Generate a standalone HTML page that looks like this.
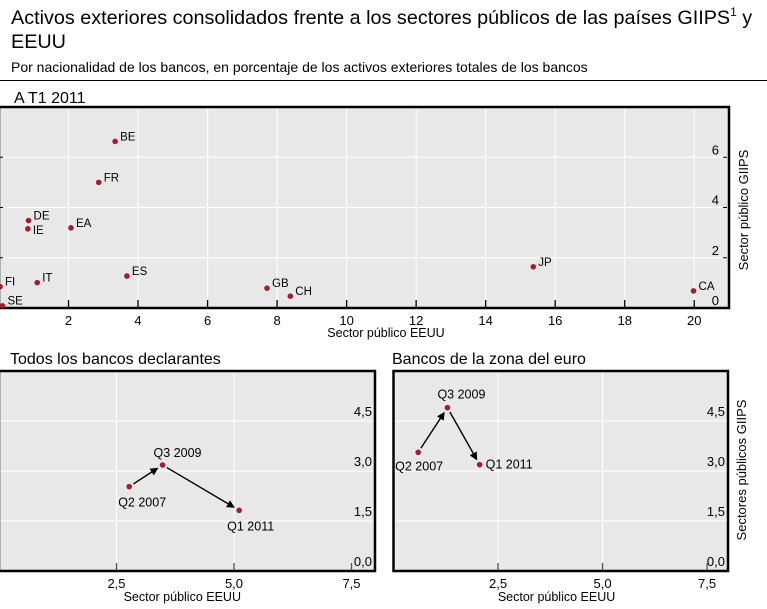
<!DOCTYPE html>
<html><head><meta charset="utf-8">
<style>
body{margin:0;background:#fff;width:767px;height:609px;overflow:hidden;font-family:"Liberation Sans",sans-serif;}
svg{position:absolute;left:0;top:0}
</style></head>
<body>
<svg id="s" width="767" height="609" xmlns="http://www.w3.org/2000/svg" font-family="Liberation Sans, sans-serif">
<text x="11" y="24" font-size="19.8" fill="#000">Activos exteriores consolidados frente a los sectores públicos de las países GIIPS<tspan font-size="12" dy="-8">1</tspan><tspan dy="8"> y</tspan></text>
<text x="11" y="48" font-size="19.8" fill="#000">EEUU</text>
<text x="11" y="72" font-size="14" fill="#000">Por nacionalidad de los bancos, en porcentaje de los activos exteriores totales de los bancos</text>
<line x1="0" y1="80.5" x2="767" y2="80.5" stroke="#000" stroke-width="1"/>
<text x="14" y="103" font-size="16">A T1 2011</text>
<text x="10" y="364" font-size="16">Todos los bancos declarantes</text>
<text x="392" y="364" font-size="16">Bancos de la zona del euro</text>
<defs><marker id="ah" markerWidth="8" markerHeight="8" refX="7" refY="4" orient="auto" markerUnits="userSpaceOnUse"><path d="M0,0 L8,4 L0,8 z" fill="#000"/></marker></defs>
</svg>
<script>
// Panel A data
const aLabels=["BE","FR","DE","IE","EA","ES","IT","FI","SE","GB","CH","JP","CA"];
const aX=[3.34,2.87,0.85,0.83,2.07,3.68,1.10,0.03,0.10,7.71,8.38,15.37,19.98];
const aY=[6.63,5.00,3.48,3.15,3.19,1.27,1.01,0.85,0.09,0.79,0.47,1.64,0.68];
const aXTicks=[2,4,6,8,10,12,14,16,18,20];
const aYTicks=[0,2,4,6];
// Panel B data (all reporting banks)
const bLabels=["Q2 2007","Q3 2009","Q1 2011"];
const bX=[2.77,3.48,5.11];
const bY=[2.53,3.18,1.82];
// Panel C data (euro area banks)
const cLabels=["Q2 2007","Q3 2009","Q1 2011"];
const cX=[0.59,1.29,2.06];
const cY=[3.56,4.90,3.19];
const bcXTicks=[2.5,5.0,7.5];
const bcXTickLabels=["2,5","5,0","7,5"];
const bcYTicks=[0,1.5,3.0,4.5];
const bcYTickLabels=["0,0","1,5","3,0","4,5"];

const svg=document.getElementById('s');
const NS="http://www.w3.org/2000/svg";
function el(tag,attrs,parent){const e=document.createElementNS(NS,tag);for(const k in attrs)e.setAttribute(k,attrs[k]);(parent||svg).appendChild(e);return e;}
function txt(x,y,s,size,anchor,parent){const t=el('text',{x:x,y:y,'font-size':size,'text-anchor':anchor||'start',fill:'#000'},parent);t.textContent=s;return t;}

function panel(name,L,R,T,B,x0,x1,y0,y1){
  const sx=v=>L+(v-x0)/(x1-x0)*(R-L);
  const sy=v=>B-(v-y0)/(y1-y0)*(B-T);
  const g=el('g',{});
  
  
  const bg=el('rect',{x:Math.max(L,0),y:T,width:R-Math.max(L,0),height:B-T,fill:'#e8e8e8'},g);
  
  
  return {g,sx,sy,L,R,T,B};
}
function frame(p){
  const f=el('rect',{x:Math.max(p.L,-2),y:p.T,width:p.R-Math.max(p.L,-2),height:p.B-p.T,fill:'none',stroke:'#000','stroke-width':2.5},p.g);
  
  
}
function dot(p,x,y,label,dx,dy,anchor){
  const c=el('circle',{cx:p.sx(x),cy:p.sy(y),r:2.8,fill:'#a51c30'},p.g);
  
  
  const t=txt(p.sx(x)+dx,p.sy(y)+dy,label,label.length>3?12.5:11.5,anchor||'start',p.g);
  
  
}

// Panel A
const A=panel('panel-a-scatter',-1,729,107,308,0,21,0,8);
aXTicks.forEach(v=>{
  el('line',{x1:A.sx(v),y1:A.T,x2:A.sx(v),y2:A.B,stroke:'#fff','stroke-width':1},A.g);
  el('line',{x1:A.sx(v),y1:A.B-8,x2:A.sx(v),y2:A.B,stroke:'#000','stroke-width':1.3},A.g);
  const t=txt(A.sx(v),A.B+17,String(v),13,'middle',A.g);
  
  
});
aYTicks.forEach(v=>{
  if(v>0){el('line',{x1:A.L,y1:A.sy(v),x2:A.R,y2:A.sy(v),stroke:'#fff','stroke-width':1},A.g);
  el('line',{x1:0,y1:A.sy(v),x2:3,y2:A.sy(v),stroke:'#000','stroke-width':1},A.g);}
  el('line',{x1:A.R-2,y1:A.sy(v),x2:A.R-6,y2:A.sy(v),stroke:'#000','stroke-width':1},A.g);
  const t=txt(A.R-10,A.sy(v)-3,String(v),13,'end',A.g);
  
  
});
frame(A);
aLabels.forEach((l,i)=>{
  let dy=(l==='IE')?5:-1;
  dot(A,aX[i],aY[i],l,5,dy);
});
const ax=txt(386,337,'Sector público EEUU',12.5,'middle');


const ay=txt(0,0,'Sector público GIIPS',13,'middle');
ay.setAttribute('transform','translate(748,210) rotate(-90)');



// Panels B and C
function smallPanel(name,L,R,xs,ys,labels,lblOff){
  const P=panel(name,L,R,371,571,0,8,0,6);
  bcXTicks.forEach((v,i)=>{
    if(v<7.5) el('line',{x1:P.sx(v),y1:P.T,x2:P.sx(v),y2:P.B,stroke:'#fff','stroke-width':1},P.g);
    el('line',{x1:P.sx(v),y1:P.B-8,x2:P.sx(v),y2:P.B,stroke:'#555','stroke-width':1.3},P.g);
    const t=txt(P.sx(v),P.B+17,bcXTickLabels[i],13,'middle',P.g);
    
    
  });
  bcYTicks.forEach((v,i)=>{
    if(v>0) el('line',{x1:Math.max(P.L,0),y1:P.sy(v),x2:P.R,y2:P.sy(v),stroke:'#fff','stroke-width':1},P.g);
    const t=txt(P.R-3,P.sy(v)-5,bcYTickLabels[i],13,'end',P.g);
    
    
  });
  frame(P);
  for(let i=0;i<xs.length-1;i++){
    const x1=P.sx(xs[i]),y1=P.sy(ys[i]),x2=P.sx(xs[i+1]),y2=P.sy(ys[i+1]);
    const dx=x2-x1,dy=y2-y1,len=Math.hypot(dx,dy),ux=dx/len,uy=dy/len;
    const a=el('line',{x1:x1+ux*5,y1:y1+uy*5,x2:x2-ux*6,y2:y2-uy*6,stroke:'#000','stroke-width':1.4,'marker-end':'url(#ah)'},P.g);
    
    
  }
  labels.forEach((l,i)=>dot(P,xs[i],ys[i],l,lblOff[i][0],lblOff[i][1],lblOff[i][2]));
  const t=txt(0,601,'Sector público EEUU',12.5,'middle');
  t.setAttribute('x',P.sx(3.9));
  
  
  return P;
}
smallPanel('panel-b-scatter',-1,375,bX,bY,bLabels,[[-11,20,'start'],[-9,-8,'start'],[-12,20,'start']]);
smallPanel('panel-c-scatter',393.5,728,cX,cY,cLabels,[[-23,18,'start'],[-10,-9,'start'],[6,4,'start']]);
const cy=txt(0,0,'Sectores públicos GIIPS',13,'middle');
cy.setAttribute('transform','translate(746,470) rotate(-90)');


</script>
</body></html>
